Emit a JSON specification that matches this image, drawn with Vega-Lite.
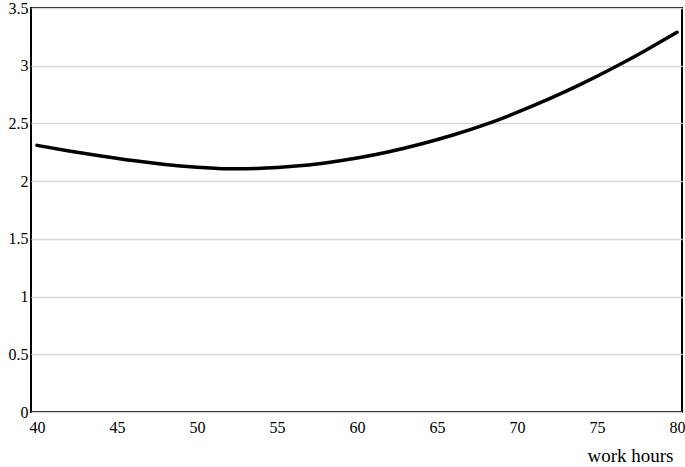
{
  "$schema": "https://vega.github.io/schema/vega-lite/v6.json",
  "width": 651,
  "height": 404,
  "autosize": {"type": "none"},
  "padding": {"left": 31, "top": 8, "right": 3, "bottom": 55},
  "background": "white",
  "config": {
    "font": "Liberation Serif",
    "view": {"stroke": "black", "strokeWidth": 2}
  },
  "data": {
    "values": [
      {"hours": 40, "value": 2.31},
      {"hours": 42, "value": 2.262},
      {"hours": 44, "value": 2.218},
      {"hours": 46, "value": 2.178},
      {"hours": 48, "value": 2.145},
      {"hours": 50, "value": 2.121},
      {"hours": 52, "value": 2.107},
      {"hours": 54, "value": 2.111},
      {"hours": 56, "value": 2.128},
      {"hours": 58, "value": 2.158},
      {"hours": 60, "value": 2.2},
      {"hours": 62, "value": 2.255},
      {"hours": 64, "value": 2.322},
      {"hours": 66, "value": 2.4},
      {"hours": 68, "value": 2.49},
      {"hours": 70, "value": 2.595},
      {"hours": 72, "value": 2.712},
      {"hours": 74, "value": 2.84},
      {"hours": 76, "value": 2.98},
      {"hours": 78, "value": 3.13},
      {"hours": 80, "value": 3.29}
    ]
  },
  "mark": {"type": "line", "color": "black", "strokeWidth": 3.5, "interpolate": "natural", "strokeCap": "round"},
  "encoding": {
    "x": {
      "field": "hours",
      "type": "quantitative",
      "scale": {"domain": [39.625, 80.31], "nice": false, "zero": false},
      "axis": {
        "values": [40, 45, 50, 55, 60, 65, 70, 75, 80],
        "grid": false,
        "ticks": false,
        "domain": false,
        "labelFont": "Liberation Serif",
        "labelFontSize": 16,
        "labelColor": "black",
        "labelPadding": 7,
        "labelFlush": false,
        "title": "work hours",
        "titleFont": "Liberation Serif",
        "titleFontSize": 19,
        "titleFontWeight": "normal",
        "titleColor": "black",
        "titleAnchor": "end",
        "titleAlign": "right",
        "titleBaseline": "alphabetic",
        "titleX": 642,
        "titleY": 49
      }
    },
    "y": {
      "field": "value",
      "type": "quantitative",
      "scale": {"domain": [0, 3.5], "nice": false},
      "axis": {
        "values": [0, 0.5, 1, 1.5, 2, 2.5, 3, 3.5],
        "labelExpr": "'' + datum.value",
        "grid": true,
        "gridColor": "#d9d9d9",
        "gridWidth": 1.5,
        "ticks": false,
        "domain": false,
        "labelFont": "Liberation Serif",
        "labelFontSize": 16,
        "labelColor": "black",
        "labelPadding": 3,
        "labelFlush": false,
        "title": null
      }
    }
  }
}
